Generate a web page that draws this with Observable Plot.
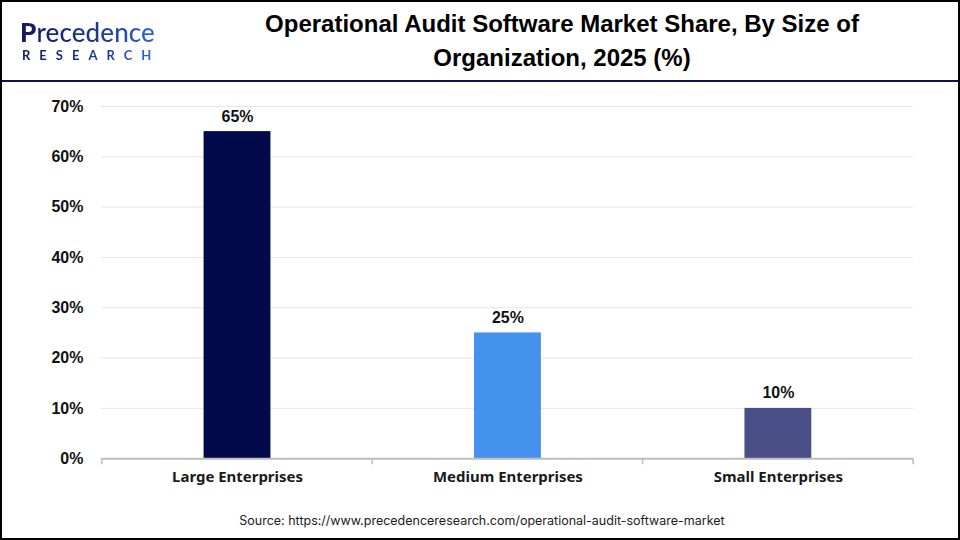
<!DOCTYPE html>
<html>
<head>
<meta charset="utf-8">
<script src="https://cdn.jsdelivr.net/npm/d3@7"></script>
<script src="https://cdn.jsdelivr.net/npm/@observablehq/plot@0.6"></script>
<style>
  html, body { margin: 0; padding: 0; background: #fff; }
  #frame { position: relative; width: 956px; height: 536px; border: 2px solid #000; overflow: hidden; background: #fff; }
  #logo { position: absolute; left: 18px; top: 15px; }
  #logo .p1 { font-family: "Lato", "DejaVu Sans", sans-serif; font-size: 26px; font-weight: 500; line-height: 31px; letter-spacing: 0.1px;
    background: linear-gradient(90deg, #141a5c 0%, #1e3a9a 60%, #2f6ee0 100%); -webkit-background-clip: text; background-clip: text; color: transparent; }
  #logo .p1 b { font-weight: 900; }
  #logo .p2 { font-family: "Lato", "DejaVu Sans", sans-serif; font-size: 13px; font-weight: 700; letter-spacing: 9px; line-height: 15px; margin-top: 0px; margin-left: 2px;
    background: linear-gradient(90deg, #141a5c 0%, #1e3a9a 60%, #2f6ee0 100%); -webkit-background-clip: text; background-clip: text; color: transparent; }
  #title { position: absolute; left: 160px; width: 800px; top: 5px; text-align: center; font-family: "Liberation Sans", Arial, sans-serif; font-weight: 700; font-size: 24px; line-height: 34px; color: #000; }
  #sep { position: absolute; left: 0; top: 78px; width: 956px; height: 2px; background: #0b1248; }
  #chart { position: absolute; left: -2px; top: 82px; }
  #source { position: absolute; left: 0; width: 960px; top: 511px; text-align: center; font-family: "Inter", "Liberation Sans", Arial, sans-serif; font-size: 12.5px; color: #222; }
</style>
</head>
<body>
<div id="frame">
  <div id="logo"><div class="p1"><b>P</b>recedence</div><div class="p2">RESEARCH</div></div>
  <div id="title">Operational Audit Software Market Share, By Size of<br>Organization, 2025 (%)</div>
  <div id="sep"></div>
  <div id="chart"></div>
  <div id="source">Source: https://www.precedenceresearch.com/operational-audit-software-market</div>
</div>
<script>
const categories = ["Large Enterprises", "Medium Enterprises", "Small Enterprises"];
const shares = [65, 25, 10];
const barColors = ["#020a4b", "#4592ee", "#4a4f87"];
const yTicks = [0, 10, 20, 30, 40, 50, 60, 70];

const data = categories.map((c, i) => ({category: c, value: shares[i], color: barColors[i]}));

const W = 960, H = 419;
const plot = Plot.plot({
  width: W,
  height: H,
  marginTop: 22,
  marginBottom: 44,
  marginLeft: 101,
  marginRight: 45,
  style: {fontFamily: "Liberation Sans, Arial, sans-serif", background: "transparent"},
  x: {domain: categories, paddingInner: 0.754, paddingOuter: 0.377, label: null},
  y: {domain: [0, 70], ticks: yTicks, label: null, tickFormat: d => d + "%"},
  marks: [
    Plot.gridY(yTicks.filter(d => d > 0), {stroke: "#e6e6e6", strokeOpacity: 1, strokeWidth: 1}),
    Plot.barY(data, {x: "category", y: "value", fill: "color"}),
    Plot.ruleY([0], {stroke: "#bdbdbd", strokeWidth: 2}),
    Plot.text(data, {x: "category", y: "value", text: d => d.value + "%", lineAnchor: "bottom", dy: -10,
      fontSize: 16, fontWeight: "bold", fill: "#111"}),
    Plot.axisY({ticks: yTicks, tickSize: 0, tickPadding: 18, fontSize: 16, fontWeight: "bold", fill: "#111", tickFormat: d => d + "%"}),
    Plot.axisX({tickSize: 0, tickPadding: 13, fontSize: 15, fontWeight: "bold", fill: "#1a1a1a",
      fontFamily: "Noto Sans, DejaVu Sans, sans-serif"})
  ]
});

// separator ticks on the category axis, placed at band boundaries from the plot's own x scale
const xs = plot.scale("x");
const ys = plot.scale("y");
const step = xs.step;
const y0 = ys.apply(0);
const gap = (step - xs.bandwidth) / 2;
const bounds = categories.map(c => xs.apply(c) - gap);
bounds.push(xs.apply(categories[categories.length - 1]) + xs.bandwidth + gap);
d3.select(plot).append("g")
  .selectAll("line").data(bounds).join("line")
  .attr("x1", d => d).attr("x2", d => d)
  .attr("y1", y0).attr("y2", y0 + 6)
  .attr("stroke", "#bdbdbd").attr("stroke-width", 1.5);

document.getElementById("chart").appendChild(plot);
</script>
</body>
</html>
